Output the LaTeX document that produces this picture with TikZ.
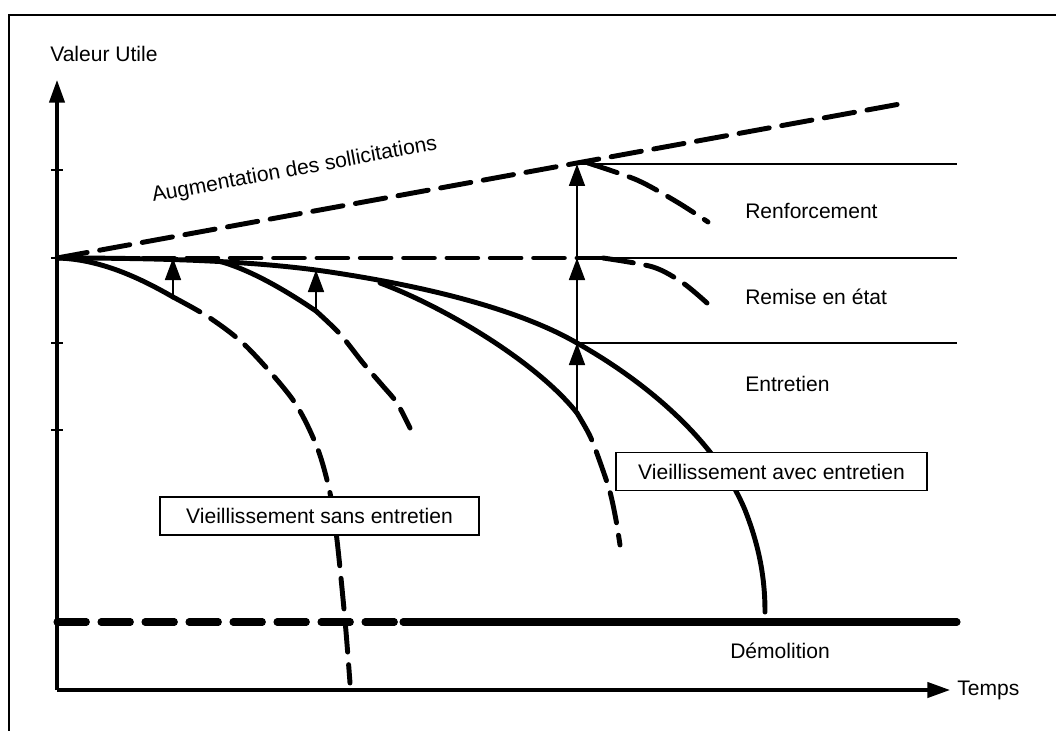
\documentclass[tikz,border=0pt]{standalone}
\usepackage{fontspec}
\setmainfont{Liberation Sans}
\usetikzlibrary{arrows.meta}
\begin{document}
\begin{tikzpicture}[x=0.75pt,y=-0.75pt,
  solidcurve/.style={line width=3.7pt, line cap=round, line join=round},
  dashcurve/.style={line width=3.7pt, line cap=round, dash pattern=on 23pt off 9.5pt},
  demdash/.style={line width=5.3pt, line cap=round, dash pattern=on 22pt off 11pt},
  demsolid/.style={line width=5.3pt, line cap=round},
  thinline/.style={line width=1.3pt},
  framestyle/.style={line width=1.6pt},
  axis/.style={line width=2.4pt, -{Triangle[length=17pt,width=11.5pt]}},
  uparrow/.style={line width=1.3pt, -{Triangle[length=16.5pt,width=12pt]}},
  lab/.style={font=\fontsize{15.8}{19}\selectfont, inner sep=0pt},
  boxlab/.style={lab, draw, line width=1.4pt, fill=white, minimum height=28.5pt}
]
\useasboundingbox (0,0) rectangle (1056,731);
% frame
\draw[framestyle] (9,731) -- (9,15) -- (1056,15);
% key coordinates
\coordinate (O) at (57,258);
\coordinate (ytop) at (57,80);
\coordinate (ybot) at (57,690);
\coordinate (xend) at (950,690);
\coordinate (augend) at (900,104);
\coordinate (A1) at (173,297);
\coordinate (A1t) at (173,258);
\coordinate (B0) at (210,259);
\coordinate (B1) at (316,311);
\coordinate (B1t) at (316,270);
\coordinate (C0) at (380,283);
\coordinate (C1) at (577,413);
\coordinate (M) at (577,343);
\coordinate (H) at (577,258);
\coordinate (R) at (577,164);
\coordinate (Hend) at (603,258);
\coordinate (Mr) at (957,343);
\coordinate (Hr) at (957,258);
\coordinate (Rr) at (957,164);
\coordinate (D0) at (57,622);
\coordinate (D1) at (403,622);
\coordinate (D2) at (957,622);
% axes
\draw[axis] (ybot) -- (ytop);
\draw[axis] (ybot) -- (xend);
\foreach \yy in {170,258,343,430}
  \draw[thinline] (51,\yy) -- (63,\yy);
% thin horizontal lines
\draw[thinline] (R) -- (Rr);
\draw[thinline] (H) -- (Hr);
\draw[thinline] (M) -- (Mr);
% augmentation line
\draw[dashcurve] (O) -- (augend);
% horizontal dashed
\draw[dashcurve] (O) -- (Hend);
% renforcement branch
\draw[dashcurve] plot[smooth] coordinates {(588,163) (637,180) (677,202) (708,222)};
% remise branch
\draw[dashcurve] plot[smooth] coordinates {(603,258) (653,267) (683,283) (707,303)};
% main curve
\draw[solidcurve] (O) .. controls (150,258) and (250,260) .. (330,272)
  .. controls (430,287) and (520,310) .. (577,343)
  .. controls (660,390) and (720,450) .. (745,510)
  .. controls (760,548) and (765,580) .. (765,612);
% first ageing
\draw[solidcurve] (O) .. controls (100,259) and (140,278) .. (A1);
\draw[dashcurve] plot[smooth] coordinates {(173,297) (210,318) (247,347) (293,400) (317,447) (330,493) (337,540) (345,620) (350,683)};
% second ageing
\draw[solidcurve] (B0) .. controls (245,266) and (285,290) .. (B1);
\draw[dashcurve] plot[smooth] coordinates {(316,311) (340,334) (363,363) (382,385) (397,403) (410,428)};
% third ageing
\draw[solidcurve] (C0) .. controls (440,305) and (535,360) .. (C1);
\draw[dashcurve] plot[smooth] coordinates {(577,413) (590,436) (600,462) (610,492) (616,520) (620,545)};
% demolition
\draw[demdash] (D0) -- (D1);
\draw[demsolid] (D1) -- (D2);
% arrows
\draw[uparrow] (A1) -- (A1t);
\draw[uparrow] (B1) -- (B1t);
\draw[uparrow] (C1) -- (M);
\draw[uparrow] (M) -- (H);
\draw[uparrow] (H) -- (R);
% labels
\node[lab, anchor=base west] (lv) at (50,62) {Valeur Utile};
\node[lab, anchor=base west] (lt) at (957,695) {Temps};
\node[lab, anchor=base west, rotate=10.4] (la) at (153,202) {Augmentation des sollicitations};
\node[lab, anchor=base west] (lr) at (745,218) {Renforcement};
\node[lab, anchor=base west] (lre) at (745,304) {Remise en état};
\node[lab, anchor=base west] (le) at (745,391) {Entretien};
\node[lab, anchor=base west] (ld) at (730,658) {Démolition};
\node[boxlab, minimum width=239pt] (bs) at (319.5,516) {Vieillissement sans entretien};
\node[boxlab, minimum width=233pt] (ba) at (771.5,471.5) {Vieillissement avec entretien};
\end{tikzpicture}
\end{document}
